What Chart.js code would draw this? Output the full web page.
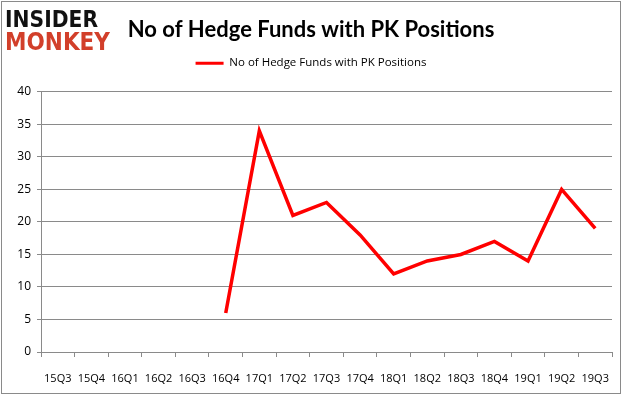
<!DOCTYPE html>
<html>
<head>
<meta charset="utf-8">
<script src="https://cdn.jsdelivr.net/npm/chart.js@4"></script>
<style>
  html, body { margin: 0; padding: 0; background: #fff; }
  canvas { display: block; }
</style>
</head>
<body>
<canvas id="chart" width="626" height="397"></canvas>
<script>
// data
const quarters = ["15Q3", "15Q4", "16Q1", "16Q2", "16Q3", "16Q4", "17Q1", "17Q2", "17Q3",
  "17Q4", "18Q1", "18Q2", "18Q3", "18Q4", "19Q1", "19Q2", "19Q3"];
const fundCounts = [null, null, null, null, null, 6, 34, 21, 23, 18, 12, 14, 15, 17, 14, 25, 19];
const seriesName = "No of Hedge Funds with PK Positions";
const chartTitle = "No of Hedge Funds with PK Positions";

const canvas = document.getElementById("chart");
const ctx = canvas.getContext("2d");

// extra space under the legend
const legendGap = {
  id: "legendGap",
  beforeInit(chart) {
    const orig = chart.legend.fit;
    chart.legend.fit = function () {
      orig.bind(chart.legend)();
      this.height += 13;
    };
  }
};

// outer frame + logo
const frame = {
  id: "frame",
  afterDraw(chart) {
    const c = chart.ctx;
    c.save();
    c.strokeStyle = "#8a8a8a";
    c.lineWidth = 1;
    c.strokeRect(1.5, 1.5, 619, 392);

    function fitText(txt, x, yBottom, w, h, color) {
      c.font = "900 " + h + "px 'DejaVu Sans'";
      const m = c.measureText(txt).width;
      c.save();
      c.translate(x, yBottom);
      c.scale(w / m, 1);
      c.fillStyle = color;
      c.textBaseline = "alphabetic";
      c.fillText(txt, 0, 0);
      c.restore();
    }
    fitText("INSIDER", 5, 27, 93, 23, "#111");
    fitText("MONKEY", 5, 50, 105, 24, "#d23f2a");
    c.restore();
  }
};

new Chart(ctx, {
  type: "line",
  data: {
    labels: quarters,
    datasets: [{
      label: seriesName,
      data: fundCounts,
      borderColor: "#ff0000",
      backgroundColor: "#ff0000",
      borderWidth: 3.5,
      pointRadius: 0,
      tension: 0,
      fill: false
    }]
  },
  options: {
    responsive: false,
    animation: false,
    layout: { padding: { left: 10, right: 14, top: 13, bottom: 0 } },
    plugins: {
      title: {
        display: true,
        text: chartTitle,
        color: "#000",
        font: { family: "Lato", size: 22, weight: "bold" },
        padding: { top: 4, bottom: 4 },
        align: "center"
      },
      legend: {
        display: true,
        labels: {
          color: "#000",
          font: { family: "'Open Sans'", size: 11.5 },
          boxWidth: 28,
          boxHeight: 3,
          padding: 10,
          generateLabels(chart) {
            const ds = chart.data.datasets[0];
            return [{ text: ds.label, fillStyle: ds.borderColor, strokeStyle: ds.borderColor, lineWidth: 0, datasetIndex: 0 }];
          }
        }
      },
      tooltip: { enabled: false }
    },
    scales: {
      x: {
        offset: true,
        grid: {
          offset: true,
          drawOnChartArea: false,
          drawTicks: true,
          tickLength: 5,
          color: "#8a8a8a"
        },
        border: { color: "#8a8a8a" },
        ticks: {
          color: "#000",
          font: { family: "'Open Sans'", size: 11 },
          maxRotation: 0,
          autoSkip: false,
          padding: 15
        },
        afterFit(scale) { scale.height = 45; }
      },
      y: {
        min: 0,
        max: 40,
        ticks: {
          stepSize: 5,
          color: "#000",
          font: { family: "'Open Sans'", size: 12 },
          padding: 6
        },
        grid: {
          color: "#8a8a8a",
          tickLength: 4
        },
        border: { color: "#8a8a8a" },
        afterFit(scale) { scale.width = 31; }
      }
    }
  },
  plugins: [legendGap, frame]
});
</script>
</body>
</html>
